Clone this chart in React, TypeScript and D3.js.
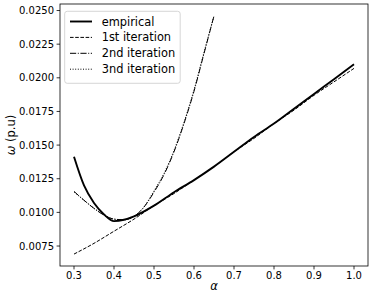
import React from "react";
import * as d3 from "d3";

const alphaEmp = [0.3, 0.325, 0.35, 0.375, 0.4, 0.425, 0.45, 0.5, 0.55, 0.6, 0.65, 0.7, 0.75, 0.8, 0.85, 0.9, 0.95, 1.0];
const empirical = [0.01413, 0.012, 0.0107, 0.00985, 0.00935, 0.00945, 0.0097, 0.0105, 0.0115, 0.0124, 0.0134, 0.0145, 0.0156, 0.0166, 0.0177, 0.0188, 0.0199, 0.021];

const alphaIt1 = [0.3, 0.35, 0.4, 0.45, 0.5, 0.55, 0.6, 0.65, 0.7, 0.75, 0.8, 0.85, 0.9, 0.95, 1.0];
const iter1 = [0.0069, 0.0077, 0.0086, 0.0095, 0.0105, 0.0114, 0.0124, 0.0134, 0.0145, 0.0155, 0.0166, 0.0176, 0.0187, 0.0197, 0.0207];

const alphaIt = [0.3, 0.325, 0.35, 0.375, 0.4, 0.425, 0.45, 0.475, 0.5, 0.525, 0.55, 0.575, 0.6, 0.625, 0.65];
const iter2 = [0.01156, 0.0109, 0.0103, 0.0098, 0.0095, 0.00945, 0.0097, 0.0104, 0.0115, 0.0128, 0.0145, 0.0166, 0.019, 0.0218, 0.0246];
const iter3 = [0.01152, 0.0109, 0.0103, 0.0098, 0.0095, 0.00945, 0.0097, 0.0104, 0.0116, 0.0129, 0.0146, 0.0167, 0.0191, 0.0219, 0.0246];

const xTicks = [0.3, 0.4, 0.5, 0.6, 0.7, 0.8, 0.9, 1.0];
const yTicks = [0.0075, 0.01, 0.0125, 0.015, 0.0175, 0.02, 0.0225, 0.025];

const legendLabels = ["empirical", "1st iteration", "2nd iteration", "3nd iteration"];

const W = 374, H = 299;
const L = 60, R = 368, T = 4, B = 266;
const FONT = "DejaVu Sans";
const FS = 10;
const FS_LEG = 11.4;
const FS_LAB = 11.5;

export default function App() {
  const allY = [...empirical, ...iter1, ...iter2, ...iter3];
  const yMin = d3.min(allY)!, yMax = d3.max(allY)!;
  const yPad = (yMax - yMin) * 0.05;
  const x = d3.scaleLinear().domain([0.3 - 0.035, 1.0 + 0.035]).range([L, R]);
  const y = d3.scaleLinear().domain([yMin - yPad, yMax + yPad]).range([B, T]);

  const line = d3
    .line<[number, number]>()
    .x((d) => x(d[0]))
    .y((d) => y(d[1]))
    .curve(d3.curveMonotoneX);

  const series = [
    { xs: alphaEmp, ys: empirical, w: 1.9, dash: "none" },
    { xs: alphaIt1, ys: iter1, w: 1, dash: "3.6,1.6" },
    { xs: alphaIt, ys: iter2, w: 1, dash: "6.2,1.6,1,1.6" },
    { xs: alphaIt, ys: iter3, w: 1, dash: "1,1.6" },
  ];

  const lx = 64.7, ly = 11.3, lw = 115.5, lh = 72;
  const rowY = (i: number) => 21.5 + i * 15.9;

  return (
    <svg width={W} height={H} style={{ position: "absolute", left: 0, top: 0 }} fontFamily={FONT}>
      <rect x={0} y={0} width={W} height={H} fill="white" />
      <defs>
        <clipPath id="clip">
          <rect x={L} y={T} width={R - L} height={B - T} />
        </clipPath>
      </defs>
      <g clipPath="url(#clip)">
        {series.map((s, i) => (
          <path
            key={i}
            d={line(s.xs.map((a, j) => [a, s.ys[j]] as [number, number]))!}
            fill="none"
            stroke="black"
            strokeWidth={s.w}
            strokeDasharray={s.dash}
          />
        ))}
      </g>
      <rect x={L} y={T} width={R - L} height={B - T} fill="none" stroke="black" strokeWidth={0.8} />
      {xTicks.map((t) => (
        <g key={t}>
          <line x1={x(t)} x2={x(t)} y1={B} y2={B + 3.4} stroke="black" strokeWidth={0.8} />
          <text x={x(t)} y={B + 6} textAnchor="middle" dominantBaseline="hanging" fontSize={FS}>
            {d3.format(".1f")(t)}
          </text>
        </g>
      ))}
      {yTicks.map((t) => (
        <g key={t}>
          <line x1={L - 3.4} x2={L} y1={y(t)} y2={y(t)} stroke="black" strokeWidth={0.8} />
          <text x={L - 6} y={y(t)} textAnchor="end" dominantBaseline="central" fontSize={FS}>
            {d3.format(".4f")(t)}
          </text>
        </g>
      ))}
      <text x={(L + R) / 2} y={289.5} textAnchor="middle" fontSize={FS_LAB} fontStyle="italic">
        α
      </text>
      <text
        transform={`translate(15, ${(T + B) / 2}) rotate(-90)`}
        textAnchor="middle"
        fontSize={FS_LAB}
      >
        <tspan fontStyle="italic">ω</tspan>
        <tspan> (p.u)</tspan>
      </text>
      <rect x={lx} y={ly} width={lw} height={lh} rx={2.5} fill="white" fillOpacity={0.8} stroke="#cccccc" strokeWidth={0.8} />
      {legendLabels.map((lab, i) => (
        <g key={lab}>
          <line
            x1={70}
            x2={92}
            y1={rowY(i)}
            y2={rowY(i)}
            stroke="black"
            strokeWidth={series[i].w}
            strokeDasharray={series[i].dash}
          />
          <text x={101.7} y={rowY(i)} dominantBaseline="central" fontSize={FS_LEG}>
            {lab}
          </text>
        </g>
      ))}
    </svg>
  );
}
